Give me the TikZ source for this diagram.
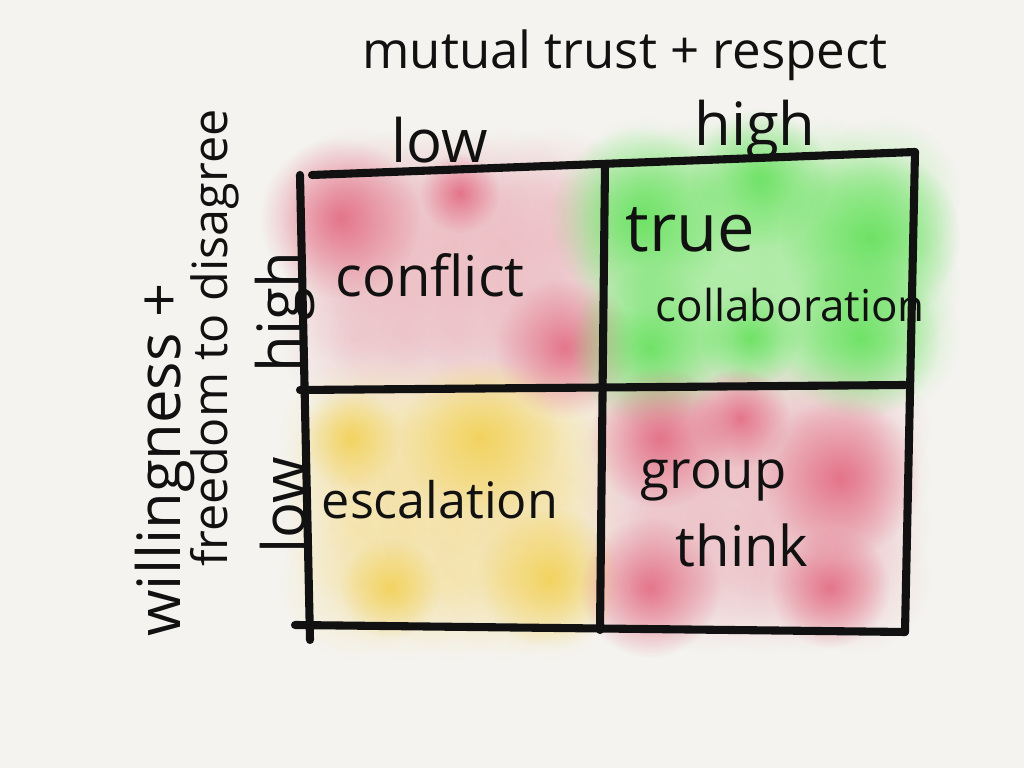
\documentclass[tikz,border=0pt]{standalone}
\usepackage{fontspec}
\setmainfont{Open Sans}
\usepackage{xcolor}
\usetikzlibrary{positioning, fadings}

\definecolor{paper}{HTML}{F4F3EF}
\definecolor{ink}{HTML}{111111}
\definecolor{pinklight}{HTML}{EDBCC3}
\definecolor{pinkdark}{HTML}{E2607A}
\definecolor{greenlight}{HTML}{9EEC95}
\definecolor{greendark}{HTML}{5EE055}
\definecolor{yellowlight}{HTML}{F6E2A0}
\definecolor{yellowdark}{HTML}{F2CF4C}

\tikzfading[name=fuzzy, inner color=transparent!0, outer color=transparent!100]

\begin{document}
\begin{tikzpicture}[
    grid line/.style={line width=2.3pt, draw=ink, line cap=round},
    cell text/.style={font=\fontsize{16}{19}\selectfont, text=ink, inner sep=0pt},
    axis text/.style={font=\fontsize{17}{20}\selectfont, text=ink, inner sep=0pt},
    wash/.style={fill=#1, path fading=fuzzy, opacity=0.6},
    blob/.style={fill=#1, path fading=fuzzy, opacity=0.8}
  ]
    % Paper
    \fill[paper] (0,0) rectangle (10.24,7.68);
    \useasboundingbox (0,0) rectangle (10.24,7.68);

    % Cloudy washes of the four cells
    \foreach \x in {3.55,4.05,4.55,5.05,5.55}
        \foreach \y in {4.30,4.80,5.25,5.65}
            \fill[wash=pinklight] (\x,\y) circle (0.75);
    \foreach \x in {6.45,7.05,7.65,8.25,8.85}
        \foreach \y in {4.30,4.85,5.35,5.75}
            \fill[wash=greenlight] (\x,\y) circle (0.75);
    \foreach \x in {3.55,4.05,4.55,5.05,5.50}
        \foreach \y in {1.85,2.40,2.90,3.35}
            \fill[wash=yellowlight] (\x,\y) circle (0.75);
    \foreach \x in {6.50,7.05,7.60,8.10,8.55}
        \foreach \y in {1.90,2.45,2.95,3.40}
            \fill[wash=pinklight] (\x,\y) circle (0.75);

    % Deeper patches
    \foreach \x/\y/\r in {3.40/5.50/0.8, 5.65/4.20/0.7, 4.60/5.75/0.4}
        \fill[blob=pinkdark] (\x,\y) circle (\r);
    \foreach \x/\y/\r in {6.40/5.50/0.9, 8.70/5.30/0.9, 7.60/5.90/0.7, 8.60/4.30/0.8, 6.50/4.20/0.8, 7.50/4.30/0.5}
        \fill[blob=greendark] (\x,\y) circle (\r);
    \foreach \x/\y/\r in {4.80/3.30/0.8, 5.50/1.90/0.7, 3.50/3.30/0.5, 3.90/1.80/0.5}
        \fill[blob=yellowdark] (\x,\y) circle (\r);
    \foreach \x/\y/\r in {8.40/2.90/0.8, 6.60/3.30/0.7, 6.50/1.80/0.7, 8.30/1.80/0.6, 7.40/3.50/0.5}
        \fill[blob=pinkdark] (\x,\y) circle (\r);

    % Grid corners
    \coordinate (top w)  at (3.12,5.93);
    \coordinate (top e)  at (9.15,6.16);
    \coordinate (mid w)  at (3.00,3.78);
    \coordinate (mid e)  at (9.05,3.83);
    \coordinate (bot w)  at (2.95,1.43);
    \coordinate (bot e)  at (9.05,1.36);
    \coordinate (left n) at (3.00,5.93);
    \coordinate (left s) at (3.10,1.28);
    \coordinate (cen n)  at (6.05,6.03);
    \coordinate (cen s)  at (6.00,1.38);

    % Grid lines
    \draw[grid line] (top w) -- (top e);
    \draw[grid line] (mid w) -- (mid e);
    \draw[grid line] (bot w) -- (bot e);
    \draw[grid line] (left n) -- (left s);
    \draw[grid line] (cen n) -- (cen s);
    \draw[grid line] (top e) -- (bot e);

    % Cell labels
    \node[cell text]                 (conflict) at (4.30,4.93) {conflict};
    \node[cell text, font=\fontsize{19}{22}\selectfont, anchor=west] (true) at (6.25,5.38) {true};
    \node[cell text, font=\fontsize{12.5}{15}\selectfont, anchor=west] (collab) at (6.55,4.63) {collaboration};
    \node[cell text, font=\fontsize{14.3}{17}\selectfont] (escal) at (4.40,2.68) {escalation};
    \node[cell text, font=\fontsize{15}{18}\selectfont, anchor=west] (group) at (6.40,2.88) {group};
    \node[cell text, below right=0.22 and 0.35 of group.south west, anchor=north west] (think) {think};

    % Axis labels
    \node[axis text, font=\fontsize{14.5}{17}\selectfont] (title) at (6.25,7.13) {mutual trust + respect};
    \node[axis text] (x low)   at (4.40,6.28) {low};
    \node[axis text] (x high)  at (7.55,6.38) {high};
    \node[axis text, rotate=90] (y high) at (2.85,4.56) {high};
    \node[axis text, rotate=90] (y low)  at (2.83,2.63) {low};
    \node[axis text, rotate=90] (will)   at (1.65,3.08) {willingness +};
    \node[axis text, rotate=90, font=\fontsize{13.8}{16}\selectfont] (free) at (2.15,4.30) {freedom to disagree};
\end{tikzpicture}
\end{document}
